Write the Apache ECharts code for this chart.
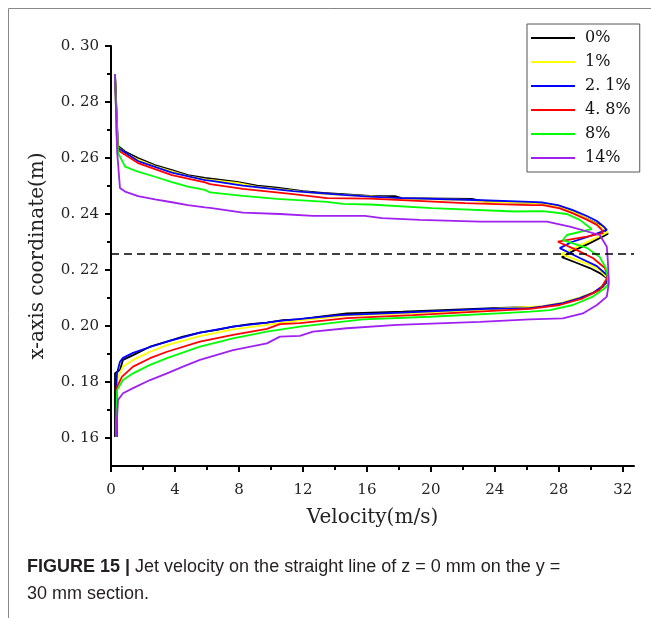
<!DOCTYPE html>
<html>
<head>
<meta charset="utf-8">
<script src="https://cdn.jsdelivr.net/npm/echarts@6/dist/echarts.min.js"></script>
<style>
  html, body { margin: 0; padding: 0; background: #fff; }
  #chart { width: 651px; height: 618px; }
</style>
</head>
<body>
<div id="chart"></div>
<script>
// Velocity profiles along x at z = 0 mm, y = 30 mm: each point is [velocity (m/s), x-coordinate (m)]
const seriesNames = ['0%', '1%', '2. 1%', '4. 8%', '8%', '14%'];
const seriesColors = ['#000000', '#ffff00', '#0000ff', '#ff0000', '#00ff00', '#a020f0'];

const profile0 = [
  [0.25,0.2900],[0.38,0.2646],[0.88,0.2623],[1.69,0.2600],[2.75,0.2575],[3.81,0.2557],[4.81,0.2539],
  [5.88,0.2529],[7.88,0.2515],[9.13,0.2501],[10.38,0.2494],[12.0,0.2482],[13.25,0.2475],[14.5,0.2471],
  [16.19,0.2465],[17.75,0.2464],[18.19,0.2457],[22.56,0.2454],[23.38,0.2444],[26.19,0.2440],[27.0,0.2438],
  [27.94,0.2429],[28.88,0.2408],[29.5,0.2390],[30.25,0.2369],[30.75,0.2355],[31.06,0.2329],
  [29.94,0.2296],[29.0,0.2271],[28.19,0.2246],[29.13,0.2225],[29.94,0.2207],[30.56,0.2189],[31.0,0.2171],
  [31.06,0.2161],[30.75,0.2140],[30.13,0.2117],[29.31,0.2099],[28.25,0.2081],[27.0,0.2069],[24.31,0.2065],
  [18.25,0.2051],[14.75,0.2045],[13.06,0.2033],[11.81,0.2024],[10.75,0.2021],[9.75,0.2012],[8.69,0.2007],
  [7.63,0.1998],[6.63,0.1986],[5.56,0.1976],[4.5,0.1962],[3.5,0.1944],[2.44,0.1926],[1.38,0.1896],
  [0.75,0.1879],[0.56,0.1843],[0.25,0.1831],[0.25,0.1604]
];
const profile1 = [
  [0.25,0.2900],[0.38,0.2640],[0.88,0.2618],[1.69,0.2594],[2.75,0.2570],[3.81,0.2552],[4.81,0.2535],
  [5.88,0.2524],[7.88,0.2511],[9.13,0.2497],[10.38,0.2490],[12.0,0.2479],[13.25,0.2472],[14.5,0.2468],
  [16.19,0.2463],[18.19,0.2455],[22.56,0.2450],[23.38,0.2443],[26.19,0.2440],[27.0,0.2437],[27.94,0.2428],
  [28.88,0.2408],[29.5,0.2390],[30.25,0.2368],[30.75,0.2352],[31.06,0.2335],
  [29.94,0.2304],[29.0,0.2279],[28.13,0.2257],[29.13,0.2236],[29.94,0.2218],[30.56,0.2200],[31.06,0.2171],
  [30.81,0.2146],[30.19,0.2121],[29.31,0.2102],[28.25,0.2084],[27.0,0.2071],[24.31,0.2063],[23.5,0.2059],
  [18.88,0.2046],[14.75,0.2038],[11.81,0.2020],[9.75,0.2004],[7.63,0.1988],[5.56,0.1964],[3.5,0.1932],
  [2.44,0.1908],[1.38,0.1879],[0.75,0.1855],[0.44,0.1819],[0.31,0.1754],[0.31,0.1604]
];
const profile2 = [
  [0.25,0.2900],[0.44,0.2636],[1.69,0.2589],[3.81,0.2548],[5.88,0.2521],[6.19,0.2519],[8.25,0.2501],
  [11.38,0.2482],[14.5,0.2468],[16.19,0.2462],[18.19,0.2457],[22.75,0.2450],[26.19,0.2443],[27.0,0.2441],
  [27.94,0.2432],[28.88,0.2414],[29.75,0.2393],[30.38,0.2375],[30.81,0.2355],[31.0,0.2343],
  [29.94,0.2321],[28.81,0.2300],[28.06,0.2278],[29.31,0.2243],[30.38,0.2214],[31.0,0.2182],[31.06,0.2168],
  [30.75,0.2143],[30.13,0.2118],[29.31,0.2100],[28.25,0.2082],[27.0,0.2070],[26.19,0.2064],[23.5,0.2061],
  [18.25,0.2048],[14.31,0.2039],[10.56,0.2018],[9.75,0.2012],[7.63,0.1998],[5.56,0.1976],[3.5,0.1944],
  [2.44,0.1925],[1.38,0.1904],[0.75,0.1886],[0.56,0.1872],[0.38,0.1832],[0.31,0.1771],[0.31,0.1604]
];
const profile3 = [
  [0.25,0.2900],[0.44,0.2628],[1.69,0.2582],[3.81,0.2539],[5.88,0.2513],[6.19,0.2507],[8.25,0.2490],
  [11.38,0.2471],[13.5,0.2457],[16.19,0.2455],[22.13,0.2439],[26.19,0.2432],[27.0,0.2432],[28.06,0.2420],
  [28.88,0.2402],[29.75,0.2380],[30.38,0.2361],[30.69,0.2343],[30.75,0.2332],
  [29.75,0.2319],[27.94,0.2301],[29.13,0.2271],[30.13,0.2243],[30.88,0.2207],[31.06,0.2175],
  [30.56,0.2129],[29.5,0.2099],[28.06,0.2075],[26.19,0.2061],[24.13,0.2055],[18.88,0.2039],[14.75,0.2028],
  [11.81,0.2010],[10.56,0.2007],[9.75,0.1990],[7.63,0.1968],[5.56,0.1944],[3.5,0.1908],[2.44,0.1885],
  [1.38,0.1855],[0.69,0.1819],[0.38,0.1783],[0.38,0.1604]
];
const profile4 = [
  [0.25,0.2900],[0.44,0.2618],[0.88,0.2569],[1.69,0.2551],[2.75,0.2533],[3.81,0.2514],[4.81,0.2498],
  [5.88,0.2486],[6.19,0.2477],[8.25,0.2465],[10.38,0.2454],[13.5,0.2443],[14.5,0.2436],[16.19,0.2434],
  [20.06,0.2421],[25.25,0.2409],[27.0,0.2410],[28.5,0.2400],[29.31,0.2379],[29.81,0.2357],[30.06,0.2346],
  [28.5,0.2325],[28.25,0.2307],[29.75,0.2279],[30.56,0.2246],[30.94,0.2207],[31.06,0.2175],[31.06,0.2146],
  [30.88,0.2135],[30.13,0.2105],[28.88,0.2075],[27.44,0.2057],[26.19,0.2051],[25.13,0.2048],[19.94,0.2033],
  [15.75,0.2024],[11.81,0.1998],[9.75,0.1980],[7.63,0.1956],[5.56,0.1926],[3.5,0.1885],[2.44,0.1861],
  [1.38,0.1831],[0.75,0.1807],[0.38,0.1771],[0.31,0.1604]
];
const profile5 = [
  [0.25,0.2900],[0.38,0.2625],[0.56,0.2493],[0.88,0.2480],[1.69,0.2464],[2.75,0.2452],[3.81,0.2442],
  [4.81,0.2432],[5.88,0.2424],[6.19,0.2422],[8.25,0.2405],[10.56,0.2400],[12.63,0.2393],[15.88,0.2393],
  [16.94,0.2385],[19.31,0.2379],[23.06,0.2373],[27.25,0.2373],[28.69,0.2355],[30.56,0.2325],[31.0,0.2283],
  [31.06,0.2236],[31.13,0.2154],[31.0,0.2105],[30.38,0.2075],[29.5,0.2045],[28.25,0.2027],[26.19,0.2024],
  [23.06,0.2015],[17.88,0.2004],[14.75,0.1992],[12.63,0.1980],[11.81,0.1965],[10.56,0.1962],[9.75,0.1938],
  [7.63,0.1914],[5.56,0.1879],[4.5,0.1855],[3.5,0.1831],[2.44,0.1807],[1.38,0.1778],[0.75,0.1760],
  [0.44,0.1736],[0.31,0.1604]
];
const profiles = [profile0, profile1, profile2, profile3, profile4, profile5];

// Axis ticks and the dashed centre line
const xMajorTicks = [0, 4, 8, 12, 16, 20, 24, 28, 32];
const xMinorTicks = [2, 6, 10, 14, 18, 22, 26, 30];
const yMajorTicks = [0.16, 0.18, 0.20, 0.22, 0.24, 0.26, 0.28, 0.30];
const yMinorTicks = [0.17, 0.19, 0.21, 0.23, 0.25, 0.27, 0.29];
const centreLineY = 0.2257;

const serif = 'DejaVu Serif';
const chart = echarts.init(document.getElementById('chart'), null, { renderer: 'canvas' });

const series = profiles.map((data, i) => ({
  name: seriesNames[i],
  type: 'line',
  data: data,
  symbol: 'none',
  showSymbol: false,
  xAxisIndex: 0,
  yAxisIndex: 0,
  lineStyle: { color: seriesColors[i], width: 1.8 },
  itemStyle: { color: seriesColors[i] },
  animation: false,
  z: 2
}));
series[0].markLine = {
  silent: true,
  precision: 4,
  symbol: ['none', 'none'],
  label: { show: false },
  lineStyle: { color: '#000', type: [8, 5], width: 1.5 },
  data: [{ yAxis: centreLineY }]
};

chart.setOption({
  animation: false,
  backgroundColor: '#fff',
  grid: { left: 111, right: 17, top: 46, bottom: 152, containLabel: false },
  xAxis: [{
    type: 'value', min: 0, max: 32.7, position: 'bottom',
    name: 'Velocity(m/s)', nameLocation: 'middle', nameGap: 42,
    nameTextStyle: { fontFamily: serif, fontSize: 20, color: '#222' },
    axisLine: { show: true, lineStyle: { color: '#000', width: 2 } },
    axisTick: { show: true, length: 6, lineStyle: { color: '#000', width: 2 }, customValues: xMajorTicks },
    axisLabel: { fontFamily: serif, fontSize: 15, color: '#222', margin: 17, customValues: xMajorTicks },
    splitLine: { show: false }
  }, {
    type: 'value', min: 0, max: 32.7, position: 'bottom',
    axisLine: { show: false },
    axisTick: { show: true, length: 4, lineStyle: { color: '#000', width: 2 }, customValues: xMinorTicks },
    axisLabel: { show: false },
    splitLine: { show: false }
  }],
  yAxis: [{
    type: 'value', min: 0.15, max: 0.30, position: 'left',
    name: 'x-axis coordinate(m)', nameLocation: 'middle', nameGap: 63,
    nameTextStyle: { fontFamily: serif, fontSize: 20, color: '#222' },
    axisLine: { show: true, lineStyle: { color: '#000', width: 2 } },
    axisTick: { show: true, length: 6, lineStyle: { color: '#000', width: 2 }, customValues: yMajorTicks },
    axisLabel: {
      fontFamily: serif, fontSize: 15, color: '#222', margin: 12, customValues: yMajorTicks,
      formatter: v => v.toFixed(2).replace('.', '. ')
    },
    splitLine: { show: false }
  }, {
    type: 'value', min: 0.15, max: 0.30, position: 'left',
    axisLine: { show: false },
    axisTick: { show: true, length: 4, lineStyle: { color: '#000', width: 2 }, customValues: yMinorTicks },
    axisLabel: { show: false },
    splitLine: { show: false }
  }],
  legend: {
    orient: 'vertical', left: 527, top: 24,
    icon: 'rect',
    itemWidth: 44, itemHeight: 2, itemGap: 0,
    padding: [2, 9, 2, 4],
    borderColor: '#555', borderWidth: 1, backgroundColor: '#fff',
    textStyle: { fontFamily: serif, fontSize: 16, color: '#111', lineHeight: 24, padding: [0, 0, 0, 5] },
    data: seriesNames
  },
  graphic: [
    { type: 'line', shape: { x1: 8.5, y1: 8.5, x2: 8.5, y2: 618 }, style: { stroke: '#888', lineWidth: 1 } },
    { type: 'line', shape: { x1: 8.5, y1: 8.5, x2: 651, y2: 8.5 }, style: { stroke: '#888', lineWidth: 1 } },
    {
      type: 'text', left: 27, top: 554,
      style: {
        text: '{b|FIGURE 15 |} Jet velocity on the straight line of z = 0 mm on the y =\n30 mm section.',
        fontFamily: 'Liberation Sans', fontSize: 18, lineHeight: 27, fill: '#231f20',
        rich: {
          b: { fontFamily: 'Liberation Sans', fontSize: 18, fontWeight: 'bold', fill: '#231f20', lineHeight: 27 }
        }
      }
    }
  ],
  series: series
});
</script>
</body>
</html>
